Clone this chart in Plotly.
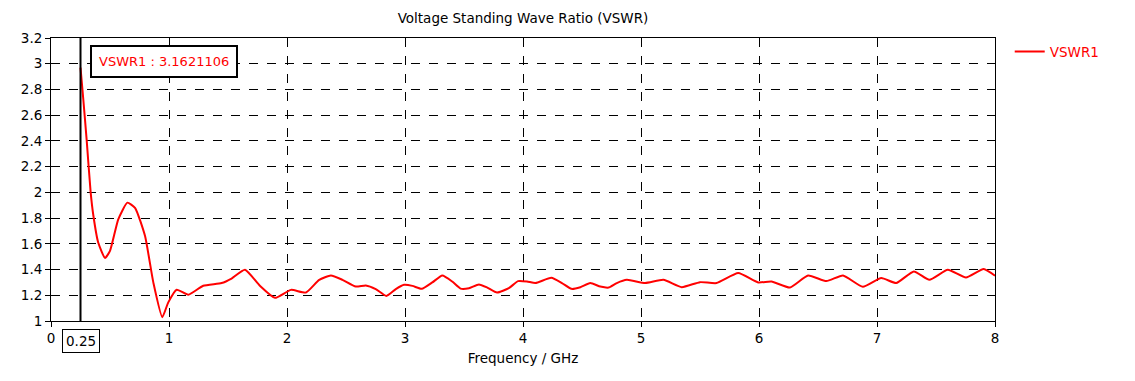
import plotly.graph_objects as go

freq_ghz = [0.25, 0.274, 0.302, 0.336, 0.359, 0.40, 0.458, 0.50, 0.57, 0.647, 0.712, 0.797,
            0.867, 0.943, 0.994, 1.065, 1.164, 1.29, 1.446, 1.53, 1.644, 1.77, 1.898, 2.034,
            2.16, 2.273, 2.372, 2.47, 2.583, 2.668, 2.752, 2.842, 2.922, 2.992, 3.063, 3.142,
            3.232, 3.316, 3.40, 3.471, 3.542, 3.626, 3.697, 3.78, 3.88, 3.958, 4.034, 4.105,
            4.24, 4.33, 4.41, 4.486, 4.57, 4.655, 4.725, 4.795, 4.88, 5.035, 5.19, 5.345,
            5.50, 5.64, 5.824, 5.993, 6.106, 6.262, 6.416, 6.571, 6.712, 6.88, 7.036, 7.163,
            7.312, 7.444, 7.60, 7.754, 7.904, 8.0]
vswr = [2.97, 2.72, 2.41, 2.0, 1.82, 1.61, 1.49, 1.545, 1.79, 1.92, 1.88, 1.66,
        1.30, 1.03, 1.145, 1.243, 1.204, 1.274, 1.295, 1.33, 1.398, 1.274, 1.18, 1.242,
        1.221, 1.32, 1.354, 1.32, 1.268, 1.276, 1.248, 1.195, 1.248, 1.281, 1.273, 1.25,
        1.30, 1.354, 1.307, 1.252, 1.255, 1.284, 1.26, 1.221, 1.255, 1.31, 1.307, 1.295,
        1.336, 1.295, 1.25, 1.263, 1.295, 1.268, 1.26, 1.295, 1.32, 1.295, 1.32, 1.263,
        1.302, 1.295, 1.373, 1.30, 1.307, 1.26, 1.354, 1.31, 1.354, 1.266, 1.334, 1.295,
        1.385, 1.32, 1.398, 1.338, 1.404, 1.352]

series_name = "VSWR1"
marker_x = 0.25
marker_label = "VSWR1 : 3.1621106"
x_ticks = [0, 1, 2, 3, 4, 5, 6, 7, 8]
y_ticks = [1, 1.2, 1.4, 1.6, 1.8, 2, 2.2, 2.4, 2.6, 2.8, 3, 3.2]

FONT = "DejaVu Sans"
FS = 13.5

# page body has an 8px default margin; size the figure so that the page fits the window
W, H = 1119, 365
L, T = 43, 30
PW, PH = 944, 283

fig = go.Figure()
fig.add_trace(go.Scatter(x=freq_ghz, y=vswr, mode="lines", name=series_name,
                         line=dict(color="#ff0000", width=2, shape="spline", smoothing=0.5)))

fig.add_shape(type="line", x0=marker_x, x1=marker_x, y0=1, y1=3.2, xref="x", yref="y",
              line=dict(color="black", width=2))

fig.add_annotation(x=marker_x, y=3.015, xref="x", yref="y", xanchor="left", yanchor="middle",
                   xshift=9, text=marker_label, showarrow=False,
                   font=dict(family=FONT, size=13, color="#ff0000"),
                   bgcolor="white", bordercolor="black", borderwidth=2, borderpad=7)

fig.add_annotation(x=marker_x, y=0, xref="x", yref="paper", yanchor="top", yshift=-8,
                   text=f"{marker_x}", showarrow=False,
                   font=dict(family=FONT, size=FS, color="black"),
                   bgcolor="white", bordercolor="black", borderwidth=1, borderpad=3)

fig.update_layout(
    width=W, height=H,
    margin=dict(l=L, r=W - L - PW, t=T, b=H - T - PH, autoexpand=False),
    paper_bgcolor="white", plot_bgcolor="white",
    title=dict(text="Voltage Standing Wave Ratio (VSWR)", x=(L + PW / 2) / W, xanchor="center",
               y=1 - 10 / H, yanchor="middle", font=dict(family=FONT, size=FS, color="black")),
    font=dict(family=FONT, size=FS, color="black"),
    showlegend=True,
    legend=dict(x=1.0156, y=1.006, xanchor="left", yanchor="top", bgcolor="rgba(0,0,0,0)",
                font=dict(family=FONT, size=FS, color="#ff0000")),
    xaxis=dict(range=[0, 8], tickvals=x_ticks, ticktext=[str(v) for v in x_ticks],
               showline=True, linecolor="black", linewidth=1, mirror=True,
               ticks="outside", ticklen=5, tickcolor="black", automargin=False,
               showgrid=True, gridcolor="black", griddash="dash", gridwidth=1,
               zeroline=False,
               title=dict(text="Frequency / GHz", font=dict(family=FONT, size=FS, color="black"), standoff=8)),
    yaxis=dict(range=[1, 3.2], tickvals=y_ticks, ticktext=[f"{v:g}" for v in y_ticks],
               showline=True, linecolor="black", linewidth=1, mirror=True,
               ticks="outside", ticklen=5, tickcolor="black", automargin=False,
               showgrid=True, gridcolor="black", griddash="dash", gridwidth=1,
               zeroline=False),
)

fig.write_html("out.html")
